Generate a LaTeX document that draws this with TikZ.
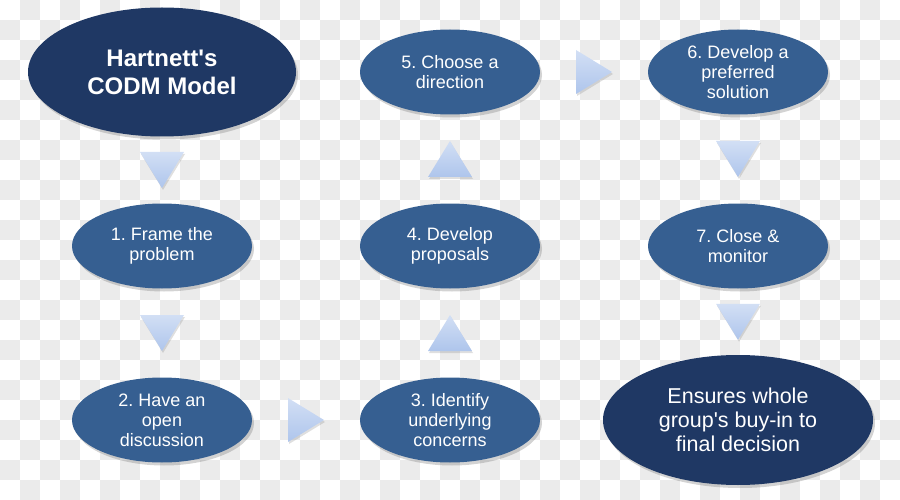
\documentclass[tikz,border=0pt]{standalone}
\usepackage{fontspec}
\setmainfont{Liberation Sans}
\usetikzlibrary{positioning, calc, shapes.geometric, shadows}

\definecolor{codmnavy}{HTML}{1F3864}
\definecolor{codmblue}{HTML}{365F91}
\definecolor{codmtri}{HTML}{AEC5EC}
\definecolor{codmcheck}{HTML}{EBEBEB}

\tikzset{
	stage/.style={ellipse, fill=codmblue, text=white, align=center, inner sep=0pt,
		minimum width=180pt, minimum height=85pt, font=\fontsize{18}{20}\selectfont,
		drop shadow={shadow xshift=2pt, shadow yshift=-3pt, opacity=0.35}},
	keystage/.style={stage, fill=codmnavy, minimum width=268pt, minimum height=129pt},
	trifill/.style={top color=codmtri!55!white, bottom color=codmtri,
		drop shadow={shadow xshift=1pt, shadow yshift=-2pt, opacity=0.25}},
	tridown/.pic={\path[trifill] (-22,-18) -- (22,-18) -- (0,18) -- cycle;}
}
\frenchspacing

\begin{document}
\begin{tikzpicture}[x=1pt, y=-1pt, node distance=174pt and 288pt, on grid]
	\useasboundingbox (0,0) rectangle (900,500);
	% checker background
	\foreach \i in {0,2,...,44} \foreach \j in {1,3,...,23}
		\fill[codmcheck] (20*\i,20*\j) rectangle ++(20,20);
	\foreach \i in {1,3,...,43} \foreach \j in {0,2,...,24}
		\fill[codmcheck] (20*\i,20*\j) rectangle ++(20,20);

	\node[keystage, font=\bfseries\fontsize{24}{28}\selectfont] (codm) at (162,72) {Hartnett\textquotesingle s\\CODM Model};
	\node[stage, below=of codm] (frame) {1. Frame the\\problem};
	\node[stage, below=of frame] (discuss) {2. Have an\\open\\discussion};
	\node[stage, right=of discuss] (concerns) {3. Identify\\underlying\\concerns};
	\node[stage, above=of concerns] (proposals) {4. Develop\\proposals};
	\node[stage, above=of proposals] (direction) {5. Choose a\\direction};
	\node[stage, right=of direction] (solution) {6. Develop a\\preferred\\solution};
	\node[stage, below=of solution] (close) {7. Close \&\\monitor};
	\node[keystage, below=of close, minimum width=270pt, minimum height=130pt,
		font=\fontsize{21.5}{24}\selectfont] (buyin) {Ensures whole\\group\textquotesingle s buy-in to\\final decision};

	\pic at ($(codm.south)!.5!(frame.north)$) {tridown};
	\pic at ($(frame.south)!.5!(discuss.north)$) {tridown};
	\pic[rotate=90] at ($(discuss.east)!.5!(concerns.west)$) {tridown};
	\pic[rotate=180] at ($(concerns.north)!.5!(proposals.south)$) {tridown};
	\pic[rotate=180] at ($(proposals.north)!.5!(direction.south)$) {tridown};
	\pic[rotate=90] at ($(direction.east)!.5!(solution.west)$) {tridown};
	\pic at ($(solution.south)!.5!(close.north)$) {tridown};
	\pic at ($(close.south)!.5!(buyin.north)$) {tridown};
\end{tikzpicture}
\end{document}
